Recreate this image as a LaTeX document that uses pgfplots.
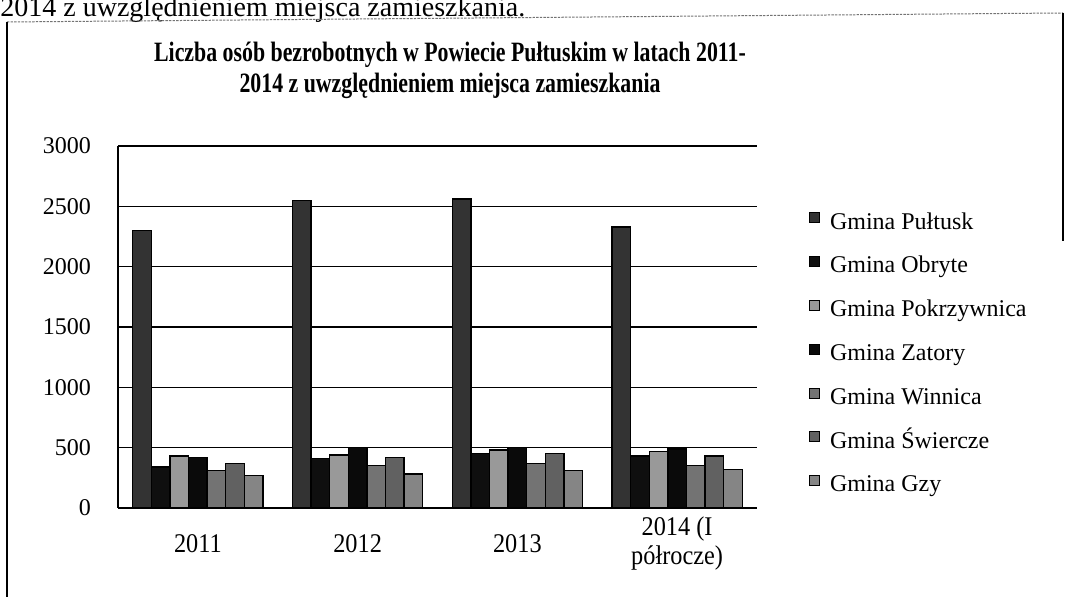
\documentclass[border=0pt]{standalone}
\usepackage{pgfplots}
\pgfplotsset{compat=1.18}
\usepackage{pgfplotstable}
\usepackage{fontspec}
\setmainfont{Liberation Serif}
\newfontfamily\titlefont[FakeStretch=0.78]{Liberation Serif}
\newfontfamily\condfont[FakeStretch=0.9]{Liberation Serif}

\pgfplotstableread{
x pultusk obryte pokrzywnica zatory winnica swiercze gzy
0 2300 340 430 420 310 370 270
1 2550 410 440 500 350 420 280
2 2560 450 480 500 370 450 310
3 2330 430 470 490 350 430 320
}\datatable

\definecolor{cPultusk}{gray}{0.2}
\definecolor{cObryte}{gray}{0.06}
\definecolor{cPokrz}{gray}{0.6}
\definecolor{cZatory}{gray}{0.04}
\definecolor{cWinnica}{gray}{0.45}
\definecolor{cSwiercze}{gray}{0.38}
\definecolor{cGzy}{gray}{0.52}

\begin{document}
\begin{tikzpicture}
\useasboundingbox (0pt,0pt) rectangle (533.5pt,298.5pt);
% partial header line of the scanned page
\node[anchor=base west, inner sep=0pt, font=\fontsize{14}{16}\selectfont] at (0pt,290pt) {2014 z uwzględnieniem miejsca zamieszkania.};
% frame
\draw[black!55, line width=0.5pt, dash pattern=on 1.2pt off 0.6pt] (3.5pt,287.5pt) -- (531.5pt,292pt);
\draw[black, line width=0.6pt] (3.5pt,287.5pt) -- (3.5pt,0pt);
\draw[black, line width=0.6pt] (531.5pt,292pt) -- (531.5pt,178pt);
% title
\node[anchor=base, inner sep=0pt, font=\titlefont\bfseries\fontsize{14}{15}\selectfont] at (225pt,267.5pt) {Liczba osób bezrobotnych w Powiecie Pułtuskim w latach 2011-};
\node[anchor=base, inner sep=0pt, font=\titlefont\bfseries\fontsize{14}{15}\selectfont] at (225pt,252pt) {2014 z uwzględnieniem miejsca zamieszkania};

\begin{axis}[
  at={(59pt,44.5pt)}, anchor=south west,
  scale only axis, width=319.5pt, height=181pt,
  ybar=0pt, bar width=9.3pt,
  xmin=-0.5, xmax=3.5, ymin=0, ymax=3000,
  xtick={0,1,2,3},
  xticklabels={2011,2012,2013,{2014 (I\\półrocze)}},
  ytick={0,500,1000,1500,2000,2500,3000},
  axis x line*=bottom, axis y line*=left,
  axis line style={black, line width=0.9pt},
  major tick length=0pt,
  ymajorgrids, grid style={black, line width=0.8pt},
  /pgf/number format/assume math mode=true,
  /pgf/number format/1000 sep={},
  yticklabel style={font=\fontsize{12}{13}\selectfont, anchor=east, xshift=-10pt},
  xticklabel style={font=\condfont\fontsize{13.5}{14.5}\selectfont, align=center, anchor=center, yshift=-18pt},
  every axis plot/.append style={draw=black, line width=0.7pt},
  legend image code/.code={\draw[#1, line width=0.3pt] (0pt,0.5pt) rectangle (5pt,5.5pt);},
  legend cell align=left,
  legend style={at={(1.0814,0.8177)}, anchor=north west, draw=none, fill=none,
    inner sep=0pt, row sep=11pt, font=\fontsize{12}{13}\selectfont,
    nodes={inner sep=0pt, text height=8pt, text depth=2.5pt},
    /tikz/every odd column/.style={column sep=5pt}},
]
\addplot[fill=cPultusk] table[x=x,y=pultusk]{\datatable};
\addplot[fill=cObryte] table[x=x,y=obryte]{\datatable};
\addplot[fill=cPokrz] table[x=x,y=pokrzywnica]{\datatable};
\addplot[fill=cZatory] table[x=x,y=zatory]{\datatable};
\addplot[fill=cWinnica] table[x=x,y=winnica]{\datatable};
\addplot[fill=cSwiercze] table[x=x,y=swiercze]{\datatable};
\addplot[fill=cGzy] table[x=x,y=gzy]{\datatable};
\legend{Gmina Pułtusk, Gmina Obryte, Gmina Pokrzywnica, Gmina Zatory, Gmina Winnica, Gmina Świercze, Gmina Gzy}
\end{axis}
\end{tikzpicture}
\end{document}
